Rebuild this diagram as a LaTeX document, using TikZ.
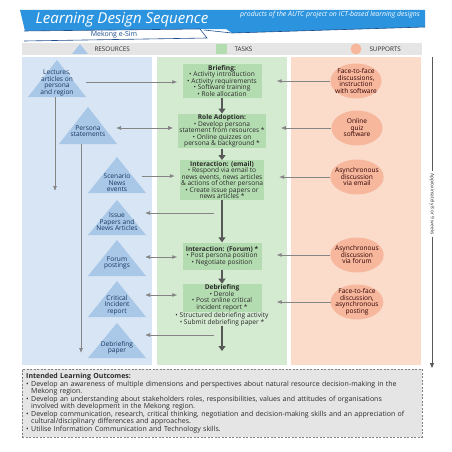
\documentclass[tikz,border=0pt]{standalone}
\usepackage{fontspec}
\setmainfont{Open Sans}
\usetikzlibrary{arrows.meta,shapes.geometric}

\definecolor{colblue}{HTML}{D7E5F5}
\definecolor{triblue}{HTML}{A9C8E7}
\definecolor{colgreen}{HTML}{D4EBD2}
\definecolor{boxgreen}{HTML}{B4DCB1}
\definecolor{colpeach}{HTML}{FBDBCA}
\definecolor{ellpeach}{HTML}{F6B79D}
\definecolor{barblue}{HTML}{2C94DE}
\definecolor{darkblue}{HTML}{1F4E8C}
\definecolor{linegray}{HTML}{858585}
\definecolor{arrowgray}{HTML}{585858}
\definecolor{legendgray}{HTML}{E5E5E5}
\definecolor{inkgray}{HTML}{2A2A2A}

\tikzset{
  conn/.style={draw=linegray, line width=0.7pt, -{Latex[length=5pt,width=4pt]}},
  bothconn/.style={draw=linegray, line width=0.7pt, {Latex[length=5pt,width=4pt]}-{Latex[length=5pt,width=4pt]}},
  flow/.style={draw=arrowgray, line width=2.6pt, -{Triangle[length=5pt,width=7pt]}},
  restri/.style={fill=triblue}
}
\AtBeginDocument{\lineskiplimit=-3pt}

\begin{document}
\begin{tikzpicture}[x=1pt,y=-1pt,font=\fontsize{6.6}{6.5}\selectfont,text=inkgray]

  \useasboundingbox (0,0) rectangle (452,452);

  % header
  \fill[barblue] (20,10) -- (425,10) -- (425,27) -- (232,33) -- (226,29) -- (25,31) -- cycle;
  \draw[darkblue, line width=0.6pt] (204,30) -- (232,33) -- (425,27);
  \filldraw[fill=white, draw=darkblue, line width=0.6pt] (24,31) -- (200,29) -- (207,38) -- (24,41);
  \node[text=white, font=\fontsize{15}{16}\selectfont\itshape] (title) at (122,20) {Learning Design Sequence};
  \node[text=white, font=\fontsize{6.9}{8}\selectfont\itshape] (subtitle) at (330,14.5) {products of the AUTC project on ICT-based learning designs};
  \node[text=darkblue, font=\fontsize{7}{8}\selectfont] (esim) at (114,35) {Mekong e-Sim};

  % legend
  \fill[legendgray] (22,43) rectangle (422,55);
  \fill[restri] (80,44) -- (88,54) -- (72,54) -- cycle;
  \fill[boxgreen] (216,44) rectangle (227,54);
  \fill[ellpeach] (356,49) circle (5.5);
  \begin{scope}[every node/.style={anchor=west, font=\fontsize{6.3}{7}\selectfont}]
    \node (legres) at (91,49) {RESOURCES};
    \node (legtask) at (231,49) {TASKS};
    \node (legsup) at (366,49) {SUPPORTS};
  \end{scope}

  % columns
  \fill[colblue] (22,57) rectangle (152,365);
  \fill[colgreen] (157,57) rectangle (287,365);
  \fill[colpeach] (291,57) rectangle (421,365);

  % resources
  \fill[restri] (57,60) -- (86,97) -- (28,97) -- cycle;
  \fill[restri] (88,107) -- (117,144) -- (59,144) -- cycle;
  \fill[restri] (117,157) -- (146,193) -- (88,193) -- cycle;
  \fill[restri] (117,200) -- (146,235) -- (88,235) -- cycle;
  \fill[restri] (117,240) -- (146,276) -- (88,276) -- cycle;
  \fill[restri] (117,281) -- (146,317) -- (88,317) -- cycle;
  \fill[restri] (117,323) -- (146,358) -- (88,358) -- cycle;

  \begin{scope}[every node/.style={align=center, inner sep=0pt, text=darkblue!70!black}]
    \node (r1) at (57,83) {Lectures,\\articles on\\persona\\and region};
    \node (r2) at (88,131) {Persona\\statements};
    \node (r3) at (117,183) {Scenario\\News\\events};
    \node (r4) at (117,222) {Issue\\Papers and\\News Articles};
    \node (r5) at (117,263) {Forum\\postings};
    \node (r6) at (117,305) {Critical\\Incident\\report};
    \node (r7) at (117,348) {Debriefing\\paper};
  \end{scope}

  % tasks
  \begin{scope}[every node/.style={fill=boxgreen, align=center, minimum width=79pt, inner sep=1pt}]
    \node (t1) at (222,81) {\textbf{Briefing:}\\• Activity introduction\\• Activity requirements\\• Software training\\• Role allocation};
    \node (t2) at (222,131) {\textbf{Role Adoption:}\\• Develop persona\\statement from resources *\\• Online quizzes on\\persona \& background *};
    \node (t3) at (222,180) {\textbf{Interaction: (email)}\\• Respond via email to\\news events, news articles\\\& actions of other persona\\• Create issue papers or\\news articles *};
    \node[minimum height=27pt] (t4) at (222,256) {\textbf{Interaction: (Forum) *}\\• Post persona position\\• Negotiate position};
    \node (t5) at (222,298) {\textbf{Debriefing}\\• Derole\\• Post online critical\\incident report *};
  \end{scope}
  \node[align=center, inner sep=0pt, anchor=north] (t5x) at (t5.south) {• Structured debriefing activity\\• Submit debriefing paper *};

  % supports
  \begin{scope}[every node/.style={ellipse, fill=ellpeach, align=center, inner sep=-3pt, minimum width=51pt, minimum height=35pt, text=black!70!red!60!black}]
    \node (s1) at (356,81) {Face-to-face\\discussions,\\instruction\\with software};
    \node (s2) at (357,128) {Online\\quiz\\software};
    \node (s3) at (357,177) {Asynchronous\\discussion\\via email};
    \node (s4) at (357,255) {Asynchronous\\discussion\\via forum};
    \node (s5) at (357,302) {Face-to-face\\discussion,\\asynchronous\\posting};
  \end{scope}

  % connector ends
  \coordinate (a1) at (86,82);
  \coordinate (a2) at (116,128);
  \coordinate (a3) at (142,176);
  \coordinate (a4) at (145,213);
  \coordinate (a5) at (145,257);
  \coordinate (a6) at (145,295);
  \coordinate (a7) at (145,335);
  \coordinate (f4) at (214,213);
  \coordinate (f7) at (214,335);
  \coordinate (fend) at (222,351);
  \coordinate (b1) at (55,97);
  \coordinate (e1) at (55,191);
  \coordinate (b2) at (81,144);
  \coordinate (e2) at (81,353);

  % resource links
  \path (b1) edge[conn] (e1);
  \path (b2) edge[conn] (e2);
  \path (a1) edge[conn, shorten >=5pt] (a1 -| t1.west);
  \path (a2) edge[bothconn, shorten >=5pt] (a2 -| t2.west);
  \path (a3) edge[conn, shorten >=5pt] (a3 -| t3.west);
  \path (f4) edge[conn] (a4);
  \path (a5) edge[bothconn, shorten >=5pt] (a5 -| t4.west);
  \path (a6) edge[bothconn, shorten >=5pt] (a6 -| t5.west);
  \path (f7) edge[conn] (a7);

  % support links
  \path (s1.west) edge[conn, shorten >=15pt] (s1.west -| t1.east);
  \path (s2.west) edge[conn, shorten >=15pt] (s2.west -| t2.east);
  \path (s3.west) edge[conn, shorten >=15pt] (s3.west -| t3.east);
  \path (s4.west) edge[conn, shorten >=15pt] (s4.west -| t4.east);
  \path (s5.west) edge[conn, shorten >=15pt] (s5.west -| t5.east);

  % task flow
  \path (t1) edge[flow] (t2);
  \path (t2) edge[flow] (t3);
  \path (t3) edge[flow] (t4);
  \path (t4) edge[flow] (t5);
  \path (t5x) edge[flow] (fend);

  % timeline
  \coordinate (w0) at (432,57);
  \coordinate (w1) at (432,368);
  \node[rotate=-90, font=\fontsize{4.8}{5}\selectfont, inner sep=2pt] (weeks) at (432,204) {Approximately 8 or 9 weeks};
  \draw[arrowgray, line width=0.9pt] (w0) -- (weeks.west);
  \draw[arrowgray, line width=0.9pt, -{Triangle[length=5pt,width=4pt]}] (weeks.east) -- (w1);

  % outcomes
  \node[draw=gray, dash pattern=on 2pt off 1.5pt, fill=legendgray, anchor=north west, minimum width=400pt, minimum height=66pt,
        text width=392pt, align=left, inner sep=4pt, font=\fontsize{7}{7.5}\selectfont] (ilo) at (22,369)
    {\textbf{Intended Learning Outcomes:}\\
     • Develop an awareness of multiple dimensions and perspectives about natural resource decision-making in the\\
     \hspace*{5pt}Mekong region.\\
     • Develop an understanding about stakeholders roles, responsibilities, values and attitudes of organisations\\
     \hspace*{5pt}involved with development in the Mekong region.\\
     • Develop communication, research, critical thinking, negotiation and decision-making skills and an appreciation of\\
     \hspace*{5pt}cultural/disciplinary differences and approaches.\\
     • Utilise Information Communication and Technology skills.};

\end{tikzpicture}
\end{document}
